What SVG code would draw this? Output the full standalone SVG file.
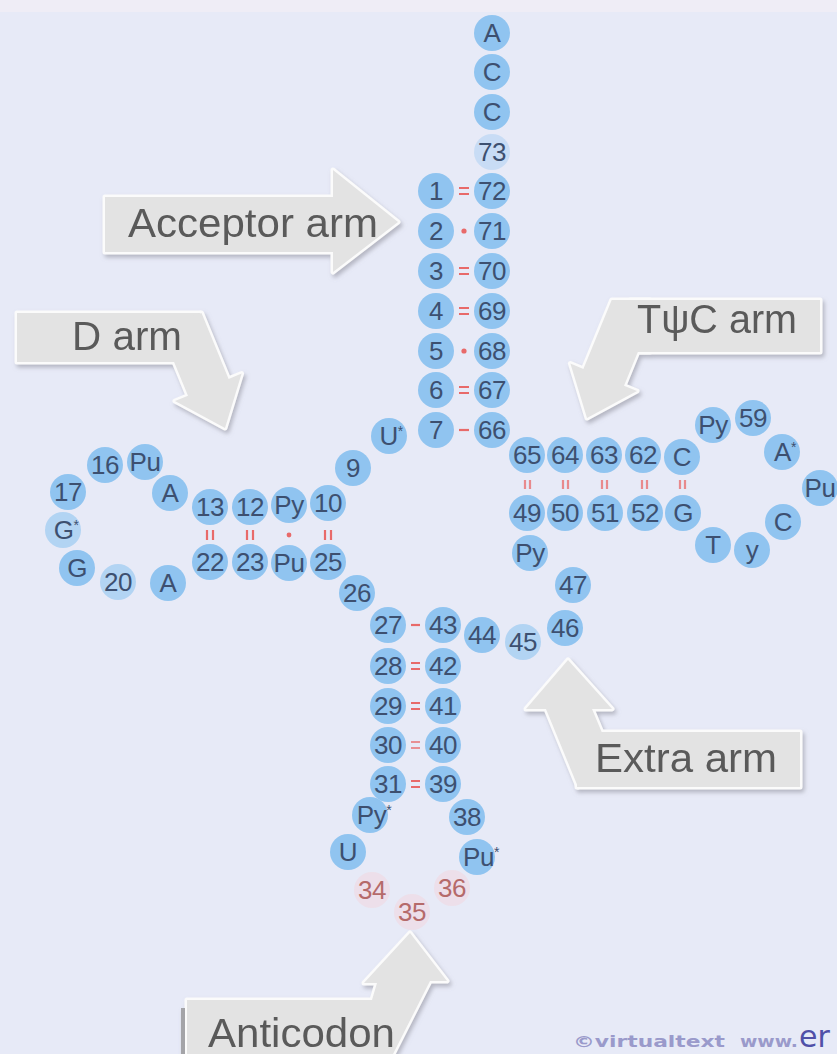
<svg xmlns="http://www.w3.org/2000/svg" xmlns:xlink="http://www.w3.org/1999/xlink" width="837" height="1054" viewBox="0 0 837 1054">
<style>
.c{fill:#90c4f0}
.cf{fill:#90c4f0;opacity:.35}
.cp{fill:#f3d3d9;opacity:.45}
.t{font-family:'Liberation Sans',Arial,sans-serif;font-size:26px;fill:#3d5070;text-anchor:middle;letter-spacing:-0.5px}
.tp{font-family:'Liberation Sans',Arial,sans-serif;font-size:26px;fill:#b56a6a;text-anchor:middle;letter-spacing:-0.5px}
.s{font-size:14px}
.bd{stroke:#e86a6a;stroke-width:2.2;fill:none}
.bdot{fill:#e86a6a}
.rim{fill:#fbfbfb;stroke:#fbfbfb;stroke-width:5;stroke-linejoin:round}
.body{fill:#e3e3e3;stroke:none}
.lab{font-family:'Liberation Sans',Arial,sans-serif;font-size:40px;fill:#5a5a5a}
</style>
<defs>
<filter id="sh" x="-15%" y="-15%" width="135%" height="140%">
<feDropShadow dx="2" dy="3" stdDeviation="2" flood-color="#8a8a96" flood-opacity="0.55"/>
</filter>
<g id="shp-acc"><polygon points="105,197 333,197 333,170 398,222 333,272 333,252 105,252"/></g>
<g id="shp-d"><rect x="17" y="313" width="183" height="49"/><polygon points="159.4,326.3 201.5,313 228.6,378.9 241.6,373.6 225,428 175,401 188,395.7"/></g>
<g id="shp-t"><rect x="630" y="300" width="190" height="52"/><polygon points="611.7,300 650,300 650,352 637.8,352 624,385.7 637,391 587,418 570.4,363.6 583.4,368.9"/></g>
<g id="shp-e"><rect x="577" y="732" width="223" height="55"/><polygon points="568,660 612,709 592,709 605,740 578,787 546,709 526,709"/></g>
<g id="shp-a"><rect x="187" y="1000" width="205" height="60"/><polygon points="410,933 447,981 430,981 393,1054 372,1054 372,1000 377,983 364,983"/></g>
</defs>
<rect x="0" y="0" width="837" height="1054" fill="#e7eaf7"/>
<rect x="0" y="0" width="837" height="12" fill="#efedf6"/>

<!-- callouts -->
<g id="callout-acceptor" filter="url(#sh)">
<use xlink:href="#shp-acc" class="rim"/><use xlink:href="#shp-acc" class="body"/>
<text class="lab" x="128" y="237" textLength="250" lengthAdjust="spacingAndGlyphs">Acceptor arm</text>
</g>
<g id="callout-d" filter="url(#sh)">
<use xlink:href="#shp-d" class="rim"/><use xlink:href="#shp-d" class="body"/>
<text class="lab" x="72" y="350" textLength="110" lengthAdjust="spacingAndGlyphs">D arm</text>
</g>
<g id="callout-tpsic" filter="url(#sh)">
<use xlink:href="#shp-t" class="rim"/><use xlink:href="#shp-t" class="body"/>
<text class="lab" x="637" y="333" textLength="160" lengthAdjust="spacingAndGlyphs">TψC arm</text>
</g>
<g id="callout-extra" filter="url(#sh)">
<use xlink:href="#shp-e" class="rim"/><use xlink:href="#shp-e" class="body"/>
<text class="lab" x="595" y="772" textLength="182" lengthAdjust="spacingAndGlyphs">Extra arm</text>
</g>
<g id="callout-anticodon" filter="url(#sh)">
<use xlink:href="#shp-a" class="rim"/><use xlink:href="#shp-a" class="body"/>
<rect x="181" y="1008" width="4" height="46" fill="#a4a4a8"/>
<text class="lab" x="208" y="1047" textLength="187" lengthAdjust="spacingAndGlyphs">Anticodon</text>
</g>

<!-- connectors (base pair bonds) -->
<g id="connectors">
<path class="bd" d="M459,188h10M459,194h10"/>
<circle class="bdot" cx="464" cy="231" r="2.6"/>
<path class="bd" d="M459,268h10M459,274h10"/>
<path class="bd" d="M459,308h10M459,314h10"/>
<circle class="bdot" cx="464" cy="351" r="2.6"/>
<path class="bd" d="M459,387h10M459,393h10"/>
<path class="bd" d="M459,430h10"/>
<path class="bd" d="M411,625h9"/>
<path class="bd" d="M411,663h9M411,669h9"/>
<path class="bd" d="M411,703h9M411,709h9"/>
<path class="bd" d="M411,742h9M411,748h9" opacity=".7"/>
<path class="bd" d="M411,781h9M411,787h9"/>
<path class="bd" d="M207,530v10M213,530v10"/>
<path class="bd" d="M247,530v10M253,530v10"/>
<circle class="bdot" cx="289" cy="535" r="2.4"/>
<path class="bd" d="M325,530v10M331,530v10"/>
<path class="bd" d="M525,480v9M530,480v9" opacity=".75"/>
<path class="bd" d="M563,480v9M568,480v9" opacity=".75"/>
<path class="bd" d="M602,480v9M607,480v9" opacity=".75"/>
<path class="bd" d="M642,480v9M647,480v9" opacity=".75"/>
<path class="bd" d="M680,480v9M685,480v9" opacity=".75"/>
</g>

<!-- acceptor stem -->
<g id="n76"><circle class="c" cx="492" cy="33" r="18"/><text class="t" x="492" y="42">A</text></g>
<g id="n75"><circle class="c" cx="492" cy="72" r="18"/><text class="t" x="492" y="81">C</text></g>
<g id="n74"><circle class="c" cx="492" cy="112" r="18"/><text class="t" x="492" y="121">C</text></g>
<g id="n73"><circle class="cf" cx="492" cy="152" r="18"/><text class="t" x="492" y="161">73</text></g>
<g id="n1"><circle class="c" cx="436" cy="191" r="18"/><text class="t" x="436" y="200">1</text></g>
<g id="n72"><circle class="c" cx="492" cy="191" r="18"/><text class="t" x="492" y="200">72</text></g>
<g id="n2"><circle class="c" cx="436" cy="231" r="18"/><text class="t" x="436" y="240">2</text></g>
<g id="n71"><circle class="c" cx="492" cy="231" r="18"/><text class="t" x="492" y="240">71</text></g>
<g id="n3"><circle class="c" cx="436" cy="271" r="18"/><text class="t" x="436" y="280">3</text></g>
<g id="n70"><circle class="c" cx="492" cy="271" r="18"/><text class="t" x="492" y="280">70</text></g>
<g id="n4"><circle class="c" cx="436" cy="311" r="18"/><text class="t" x="436" y="320">4</text></g>
<g id="n69"><circle class="c" cx="492" cy="311" r="18"/><text class="t" x="492" y="320">69</text></g>
<g id="n5"><circle class="c" cx="436" cy="351" r="18"/><text class="t" x="436" y="360">5</text></g>
<g id="n68"><circle class="c" cx="492" cy="351" r="18"/><text class="t" x="492" y="360">68</text></g>
<g id="n6"><circle class="c" cx="436" cy="390" r="18"/><text class="t" x="436" y="399">6</text></g>
<g id="n67"><circle class="c" cx="492" cy="390" r="18"/><text class="t" x="492" y="399">67</text></g>
<g id="n7"><circle class="c" cx="436" cy="430" r="18"/><text class="t" x="436" y="439">7</text></g>
<g id="n66"><circle class="c" cx="492" cy="430" r="18"/><text class="t" x="492" y="439">66</text></g>
<g id="n8"><circle class="c" cx="389" cy="436" r="18"/><text class="t" x="391" y="445">U<tspan class="s" dy="-9">*</tspan></text></g>
<g id="n9"><circle class="c" cx="353" cy="468" r="18"/><text class="t" x="353" y="477">9</text></g>

<!-- D arm -->
<g id="n10"><circle class="c" cx="328" cy="503" r="18"/><text class="t" x="328" y="512">10</text></g>
<g id="n11"><circle class="c" cx="289" cy="505" r="18"/><text class="t" x="289" y="514">Py</text></g>
<g id="n12"><circle class="c" cx="250" cy="507" r="18"/><text class="t" x="250" y="516">12</text></g>
<g id="n13"><circle class="c" cx="210" cy="507" r="18"/><text class="t" x="210" y="516">13</text></g>
<g id="n14"><circle class="c" cx="170" cy="493" r="18"/><text class="t" x="170" y="502">A</text></g>
<g id="n15"><circle class="c" cx="145" cy="462" r="18"/><text class="t" x="145" y="471">Pu</text></g>
<g id="n16"><circle class="c" cx="105" cy="465" r="18"/><text class="t" x="105" y="474">16</text></g>
<g id="n17"><circle class="c" cx="68" cy="492" r="18"/><text class="t" x="68" y="501">17</text></g>
<g id="n18"><circle class="c" cx="63" cy="530" r="18" opacity=".6"/><text class="t" x="66" y="539">G<tspan class="s" dy="-9">*</tspan></text></g>
<g id="n19"><circle class="c" cx="77" cy="568" r="18"/><text class="t" x="77" y="577">G</text></g>
<g id="n20"><circle class="c" cx="118" cy="582" r="18" opacity=".6"/><text class="t" x="118" y="591">20</text></g>
<g id="n21"><circle class="c" cx="168" cy="583" r="18"/><text class="t" x="168" y="592">A</text></g>
<g id="n22"><circle class="c" cx="210" cy="562" r="18"/><text class="t" x="210" y="571">22</text></g>
<g id="n23"><circle class="c" cx="250" cy="562" r="18"/><text class="t" x="250" y="571">23</text></g>
<g id="n24"><circle class="c" cx="289" cy="563" r="18"/><text class="t" x="289" y="572">Pu</text></g>
<g id="n25"><circle class="c" cx="328" cy="562" r="18"/><text class="t" x="328" y="571">25</text></g>
<g id="n26"><circle class="c" cx="357" cy="593" r="18"/><text class="t" x="357" y="602">26</text></g>

<!-- anticodon arm -->
<g id="n27"><circle class="c" cx="388" cy="625" r="18"/><text class="t" x="388" y="634">27</text></g>
<g id="n28"><circle class="c" cx="388" cy="666" r="18"/><text class="t" x="388" y="675">28</text></g>
<g id="n29"><circle class="c" cx="388" cy="706" r="18"/><text class="t" x="388" y="715">29</text></g>
<g id="n30"><circle class="c" cx="388" cy="745" r="18"/><text class="t" x="388" y="754">30</text></g>
<g id="n31"><circle class="c" cx="388" cy="784" r="18"/><text class="t" x="388" y="793">31</text></g>
<g id="n32"><circle class="c" cx="370" cy="815" r="18"/><text class="t" x="374" y="824">Py<tspan class="s" dy="-9">*</tspan></text></g>
<g id="n33"><circle class="c" cx="348" cy="852" r="18"/><text class="t" x="348" y="861">U</text></g>
<g id="n34"><circle class="cp" cx="372" cy="890" r="18"/><text class="tp" x="372" y="899">34</text></g>
<g id="n35"><circle class="cp" cx="412" cy="912" r="18"/><text class="tp" x="412" y="921">35</text></g>
<g id="n36"><circle class="cp" cx="452" cy="888" r="18"/><text class="tp" x="452" y="897">36</text></g>
<g id="n37"><circle class="c" cx="477" cy="857" r="18"/><text class="t" x="481" y="866">Pu<tspan class="s" dy="-9">*</tspan></text></g>
<g id="n38"><circle class="c" cx="467" cy="817" r="18"/><text class="t" x="467" y="826">38</text></g>
<g id="n39"><circle class="c" cx="443" cy="784" r="18"/><text class="t" x="443" y="793">39</text></g>
<g id="n40"><circle class="c" cx="443" cy="745" r="18"/><text class="t" x="443" y="754">40</text></g>
<g id="n41"><circle class="c" cx="443" cy="706" r="18"/><text class="t" x="443" y="715">41</text></g>
<g id="n42"><circle class="c" cx="443" cy="666" r="18"/><text class="t" x="443" y="675">42</text></g>
<g id="n43"><circle class="c" cx="443" cy="625" r="18"/><text class="t" x="443" y="634">43</text></g>

<!-- extra arm -->
<g id="n44"><circle class="c" cx="482" cy="635" r="18"/><text class="t" x="482" y="644">44</text></g>
<g id="n45"><circle class="c" cx="523" cy="642" r="18" opacity=".6"/><text class="t" x="523" y="651">45</text></g>
<g id="n46"><circle class="c" cx="565" cy="628" r="18"/><text class="t" x="565" y="637">46</text></g>
<g id="n47"><circle class="c" cx="573" cy="585" r="18"/><text class="t" x="573" y="594">47</text></g>
<g id="n48"><circle class="c" cx="530" cy="553" r="18"/><text class="t" x="530" y="562">Py</text></g>

<!-- TψC arm -->
<g id="n49"><circle class="c" cx="527" cy="513" r="18"/><text class="t" x="527" y="522">49</text></g>
<g id="n50"><circle class="c" cx="565" cy="513" r="18"/><text class="t" x="565" y="522">50</text></g>
<g id="n51"><circle class="c" cx="605" cy="513" r="18"/><text class="t" x="605" y="522">51</text></g>
<g id="n52"><circle class="c" cx="645" cy="513" r="18"/><text class="t" x="645" y="522">52</text></g>
<g id="n53"><circle class="c" cx="683" cy="513" r="18"/><text class="t" x="683" y="522">G</text></g>
<g id="n54"><circle class="c" cx="713" cy="545" r="18"/><text class="t" x="713" y="554">T</text></g>
<g id="n55"><circle class="c" cx="752" cy="550" r="18"/><text class="t" x="752" y="559">y</text></g>
<g id="n56"><circle class="c" cx="783" cy="522" r="18"/><text class="t" x="783" y="531">C</text></g>
<g id="n57"><circle class="c" cx="820" cy="488" r="18"/><text class="t" x="820" y="497">Pu</text></g>
<g id="n58"><circle class="c" cx="782" cy="452" r="18"/><text class="t" x="785" y="461">A<tspan class="s" dy="-9">*</tspan></text></g>
<g id="n59"><circle class="c" cx="753" cy="418" r="18"/><text class="t" x="753" y="427">59</text></g>
<g id="n60"><circle class="c" cx="713" cy="425" r="18"/><text class="t" x="713" y="434">Py</text></g>
<g id="n61"><circle class="c" cx="682" cy="457" r="18"/><text class="t" x="682" y="466">C</text></g>
<g id="n62"><circle class="c" cx="643" cy="455" r="18"/><text class="t" x="643" y="464">62</text></g>
<g id="n63"><circle class="c" cx="604" cy="455" r="18"/><text class="t" x="604" y="464">63</text></g>
<g id="n64"><circle class="c" cx="565" cy="455" r="18"/><text class="t" x="565" y="464">64</text></g>
<g id="n65"><circle class="c" cx="527" cy="455" r="18"/><text class="t" x="527" y="464">65</text></g>

<!-- watermark -->
<g id="watermark" font-family="'DejaVu Sans',Verdana,sans-serif" font-weight="bold">
<text x="573" y="1047" font-size="16" fill="#9a9acb" textLength="152" lengthAdjust="spacingAndGlyphs">©virtualtext</text>
<text x="740" y="1047" font-size="16" fill="#9a9acb" textLength="58" lengthAdjust="spacingAndGlyphs">www.</text>
<text x="799" y="1047" font-size="30" font-weight="normal" fill="#5050a8">er</text>
</g>
</svg>
